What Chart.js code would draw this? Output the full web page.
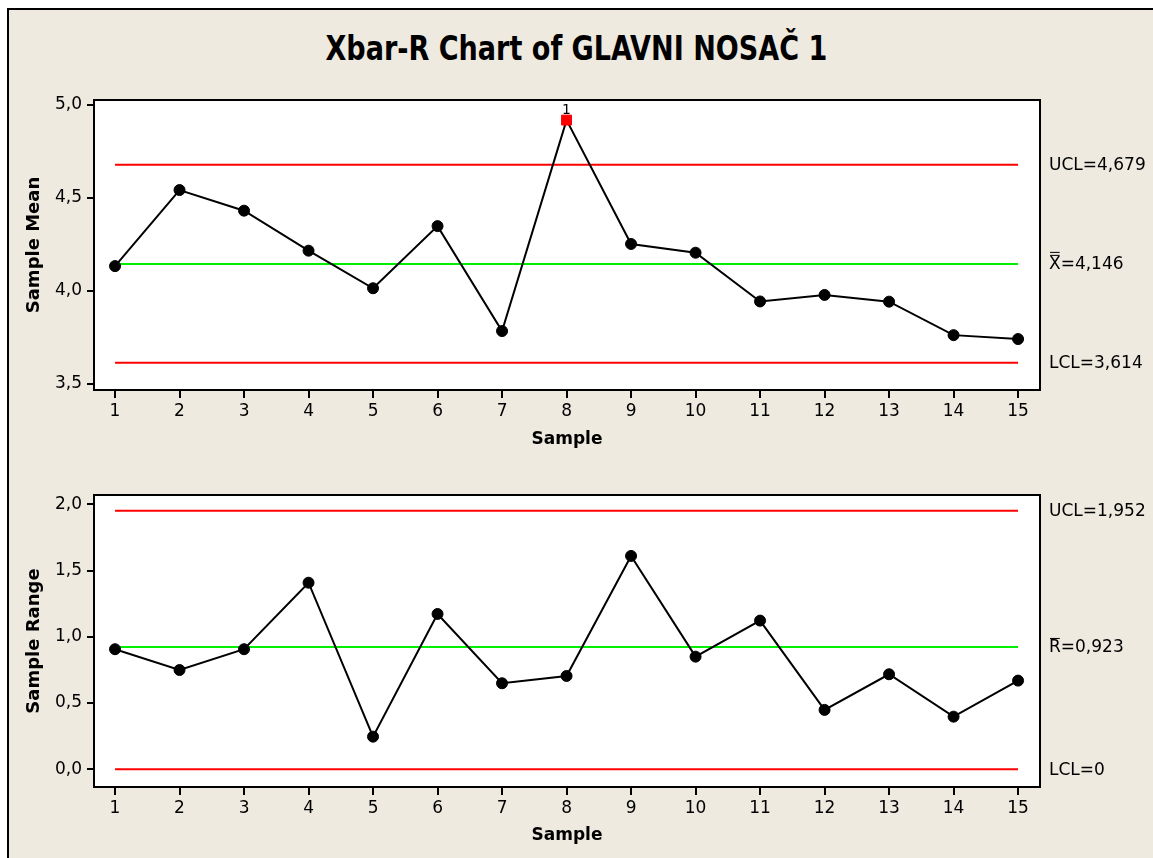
<!DOCTYPE html>
<html>
<head>
<meta charset="utf-8">
<script src="https://cdn.jsdelivr.net/npm/chart.js@4.4.1/dist/chart.umd.min.js"></script>
<style>
  body { margin: 0; width: 1153px; height: 858px; overflow: hidden; background: #fff; position: relative; font-family: "DejaVu Sans", sans-serif; }
  #frame { position: absolute; left: 7px; top: 8px; width: 1200px; height: 900px; border: 2px solid #000; background: #eeeae0; }
  #title { position: absolute; left: 0; top: 31px; width: 1153px; text-align: center; }
  #title span { display: inline-block; font-weight: bold; font-size: 34px; line-height: 34px; white-space: nowrap; transform-origin: center; }
  canvas { position: absolute; left: 0; }
</style>
</head>
<body>
<div id="frame"></div>
<div id="title"><span id="titleText">Xbar-R Chart of GLAVNI NOSAČ 1</span></div>
<canvas id="meanChart" width="1153" height="454" style="top:0"></canvas>
<canvas id="rangeChart" width="1153" height="396" style="top:454px"></canvas>
<script>
const samples = [1, 2, 3, 4, 5, 6, 7, 8, 9, 10, 11, 12, 13, 14, 15];
const sampleMeans = [4.134, 4.543, 4.432, 4.217, 4.015, 4.349, 3.785, 4.919, 4.253, 4.206, 3.944, 3.979, 3.943, 3.763, 3.742];
const meanLimits = { ucl: 4.679, center: 4.146, lcl: 3.614 };
const meanTicks = [3.5, 4.0, 4.5, 5.0];
const meanOutOfControl = [8]; // failed test 1

const sampleRanges = [0.906, 0.749, 0.906, 1.408, 0.246, 1.172, 0.649, 0.704, 1.61, 0.85, 1.122, 0.448, 0.717, 0.397, 0.669];
const rangeLimits = { ucl: 1.952, center: 0.923, lcl: 0 };
const rangeTicks = [0.0, 0.5, 1.0, 1.5, 2.0];

// fit the title to the width it has in the original
const t = document.getElementById('titleText');
t.style.transform = 'scaleX(' + (502 / t.offsetWidth) + ')';

Chart.defaults.font.family = '"DejaVu Sans", sans-serif';
Chart.defaults.color = '#000';

const comma = v => String(v).replace('.', ',');

const plotFrame = {
  id: 'plotFrame',
  beforeDraw(chart) {
    const a = chart.chartArea;
    chart.ctx.save();
    chart.ctx.fillStyle = '#fff';
    chart.ctx.fillRect(a.left, a.top, a.right - a.left, a.bottom - a.top);
    chart.ctx.restore();
  },
  afterDatasetsDraw(chart) {
    const a = chart.chartArea;
    const ctx = chart.ctx;
    ctx.save();
    ctx.strokeStyle = '#000';
    ctx.lineWidth = 2;
    ctx.strokeRect(a.left, a.top, a.right - a.left, a.bottom - a.top);
    ctx.restore();
  }
};

// UCL / center / LCL text to the right of the plot
const sideLabels = {
  id: 'sideLabels',
  afterDraw(chart, args, opts) {
    const ctx = chart.ctx;
    const x = chart.chartArea.right + 9;
    ctx.save();
    ctx.font = '17px "DejaVu Sans"';
    ctx.fillStyle = '#000';
    ctx.textBaseline = 'middle';
    opts.items.forEach(it => {
      const y = chart.scales.y.getPixelForValue(it.value) + 1;
      ctx.fillText(it.text, x, y);
      const w = ctx.measureText(it.text[0]).width;
      for (let i = 0; i < (it.bars || 0); i++) {
        ctx.fillRect(x + 1, y - 10 - i * 3, w - 2, 1);
      }
    });
    ctx.restore();
  }
};

// "1" over the points that fail the test
const flagLabels = {
  id: 'flagLabels',
  afterDatasetsDraw(chart, args, opts) {
    const ctx = chart.ctx;
    const meta = chart.getDatasetMeta(0);
    ctx.save();
    ctx.font = '14px "DejaVu Sans"';
    ctx.fillStyle = '#000';
    ctx.textAlign = 'center';
    ctx.textBaseline = 'bottom';
    (opts.flagged || []).forEach(s => {
      const p = meta.data[samples.indexOf(s)];
      ctx.fillText('1', p.x, p.y - 3);
    });
    ctx.restore();
  }
};

function limitLine(value, color) {
  return {
    data: [{ x: samples[0], y: value }, { x: samples[samples.length - 1], y: value }],
    borderColor: color,
    borderWidth: 2,
    pointRadius: 0,
    tension: 0
  };
}

function makeChart(id, cfg) {
  const flagged = cfg.flagged || [];
  const isFlag = c => flagged.includes(samples[c.dataIndex]);
  new Chart(document.getElementById(id), {
    type: 'line',
    data: {
      datasets: [
        {
          data: samples.map((s, i) => ({ x: s, y: cfg.values[i] })),
          borderColor: '#000',
          borderWidth: 2,
          tension: 0,
          pointStyle: c => isFlag(c) ? 'rect' : 'circle',
          pointRadius: c => isFlag(c) ? 7 : 5.5,
          pointBackgroundColor: c => isFlag(c) ? '#ff0000' : '#000',
          pointBorderColor: c => isFlag(c) ? '#ff0000' : '#000',
          pointBorderWidth: 1
        },
        limitLine(cfg.limits.ucl, '#ff0000'),
        limitLine(cfg.limits.center, '#00ee00'),
        limitLine(cfg.limits.lcl, '#ff0000')
      ]
    },
    options: {
      responsive: false,
      animation: false,
      devicePixelRatio: 1,
      layout: { padding: { left: 20, right: 113, top: cfg.padTop, bottom: 0 } },
      plugins: {
        legend: { display: false },
        tooltip: { enabled: false },
        sideLabels: { items: cfg.labels },
        flagLabels: { flagged: flagged }
      },
      scales: {
        x: {
          type: 'linear',
          min: 0.674,
          max: 15.34,
          afterBuildTicks: s => { s.ticks = samples.map(v => ({ value: v })); },
          afterFit: s => { s.height = cfg.xHeight; },
          ticks: { font: { size: 17 }, padding: 3, autoSkip: false, maxRotation: 0 },
          grid: { drawOnChartArea: false, tickLength: 8, color: '#000', lineWidth: 2 },
          border: { display: false },
          title: { display: true, text: 'Sample', font: { size: 17, weight: 'bold' }, padding: { top: 4, bottom: 4 } }
        },
        y: {
          min: cfg.yMin,
          max: cfg.yMax,
          afterBuildTicks: s => { s.ticks = cfg.ticks.map(v => ({ value: v })); },
          afterFit: s => { s.width = 74; },
          ticks: { font: { size: 17 }, padding: 5, callback: v => v.toFixed(1).replace('.', ',') },
          grid: { drawOnChartArea: false, tickLength: 7, color: '#000', lineWidth: 2 },
          border: { display: false },
          title: { display: true, text: cfg.yTitle, font: { size: 18, weight: 'bold' }, padding: { top: 4, bottom: 4 } }
        }
      }
    },
    plugins: [plotFrame, sideLabels, flagLabels]
  });
}

makeChart('meanChart', {
  values: sampleMeans,
  limits: meanLimits,
  ticks: meanTicks,
  flagged: meanOutOfControl,
  yMin: 3.468, yMax: 5.027,
  padTop: 100, xHeight: 64,
  yTitle: 'Sample Mean',
  labels: [
    { value: meanLimits.ucl, text: 'UCL=' + comma(meanLimits.ucl) },
    { value: meanLimits.center, text: 'X=' + comma(meanLimits.center), bars: 2 },
    { value: meanLimits.lcl, text: 'LCL=' + comma(meanLimits.lcl) }
  ]
});

makeChart('rangeChart', {
  values: sampleRanges,
  limits: rangeLimits,
  ticks: rangeTicks,
  yMin: -0.134, yMax: 2.07,
  padTop: 41, xHeight: 63,
  yTitle: 'Sample Range',
  labels: [
    { value: rangeLimits.ucl, text: 'UCL=' + comma(rangeLimits.ucl) },
    { value: rangeLimits.center, text: 'R=' + comma(rangeLimits.center), bars: 1 },
    { value: rangeLimits.lcl, text: 'LCL=' + comma(rangeLimits.lcl) }
  ]
});
</script>
</body>
</html>
